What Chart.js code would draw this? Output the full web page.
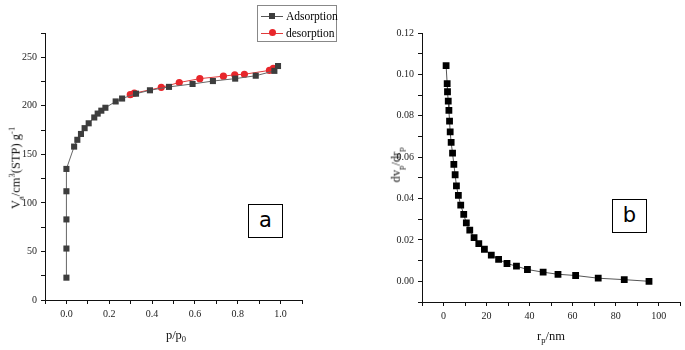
<!DOCTYPE html>
<html lang="en">
<head>
  <meta charset="UTF-8" />
  <title>Isotherm and pore size distribution</title>
  <script src="https://cdn.jsdelivr.net/npm/chart.js"></script>
  <style>
    body {
      margin: 0;
      width: 685px;
      height: 350px;
      background: #fff;
      position: relative;
      overflow: hidden;
      font-family: "Liberation Serif", serif;
    }
    .panel {
      position: absolute;
      top: 0;
      height: 350px;
    }
    #panelA { left: 0; width: 345px; }
    #panelB { left: 345px; width: 340px; }
    .axis-title {
      position: absolute;
      font-size: 12.5px;
      color: #111;
      white-space: nowrap;
      transform: translate(-50%, -50%);
    }
    .axis-title.rot {
      transform: translate(-50%, -50%) rotate(-90deg);
    }
    .axis-title sub, .axis-title sup { font-size: 8.5px; }
    .tag {
      position: absolute;
      border: 1px solid #000;
      background: #fff;
      font-family: "DejaVu Sans", sans-serif;
      font-size: 21px;
      text-align: center;
      box-sizing: border-box;
    }
    #legend {
      position: absolute;
      left: 257px;
      top: 5px;
      width: 80px;
      height: 37px;
      border: 1px solid #888;
      box-sizing: border-box;
      font-size: 11.5px;
    }
    .leg-row {
      position: absolute;
      left: 2px;
      height: 14px;
    }
    .leg-line {
      position: absolute;
      left: 1px;
      top: 7px;
      width: 22px;
      height: 1px;
    }
    .leg-mark {
      position: absolute;
      left: 9px;
    }
    .leg-text {
      position: absolute;
      left: 26px;
      top: 0;
      line-height: 14px;
    }
  </style>
</head>
<body>

  <div class="panel" id="panelA"><canvas id="chartA"></canvas></div>
  <div class="panel" id="panelB"><canvas id="chartB"></canvas></div>

  <div class="axis-title rot" style="left:16px; top:168px;">V<sub>a</sub>/cm<sup>3</sup>(STP) g<sup>-1</sup></div>
  <div class="axis-title" style="left:176px; top:336px;">p/p<sub>0</sub></div>
  <div class="axis-title rot" style="left:397px; top:165px;">dv<sub>p</sub>/dr<sub>p</sub></div>
  <div class="axis-title" style="left:551px; top:337px;">r<sub>p</sub>/nm</div>

  <div class="tag" style="left:248px; top:204px; width:35px; height:34px; line-height:31px;">a</div>
  <div class="tag" style="left:612px; top:199px; width:35px; height:34px; line-height:31px;">b</div>

  <div id="legend">
    <div class="leg-row" style="top:3px;">
      <div class="leg-line" style="background:#555;"></div>
      <div class="leg-mark" style="top:4px; width:6px; height:6px; background:#3d3d3d;"></div>
      <div class="leg-text">Adsorption</div>
    </div>
    <div class="leg-row" style="top:20px;">
      <div class="leg-line" style="background:#e03a3a;"></div>
      <div class="leg-mark" style="top:3px; width:7px; height:7px; border-radius:50%; background:#e8262b;"></div>
      <div class="leg-text">desorption</div>
    </div>
  </div>

  <script>
    // (a) N2 isotherm
    const adsP = [0.0, 0.0, 0.0, 0.0, 0.0, 0.036, 0.051, 0.068, 0.085, 0.104, 0.13, 0.146, 0.163, 0.182, 0.23, 0.26, 0.325, 0.39, 0.479, 0.589, 0.684, 0.788, 0.884, 0.971, 0.988];
    const adsV = [23, 53, 83, 112, 135, 158, 165, 171, 177, 182, 188, 192, 195, 198, 204.5, 207.5, 212.5, 216, 219.5, 222.5, 225.5, 228, 231, 236, 241];
    const desP = [0.966, 0.948, 0.831, 0.786, 0.733, 0.623, 0.527, 0.443, 0.317, 0.298];
    const desV = [238.5, 236.5, 232.5, 232, 230.5, 228, 224, 219, 213, 211.5];

    // (b) pore size distribution
    const poreR = [1.2, 1.7, 1.85, 2.2, 2.5, 2.8, 3.1, 3.55, 4.2, 4.8, 5.4, 6.0, 6.9, 8.0, 9.4, 10.6, 12.2, 14.2, 16.4, 19.0, 22.2, 25.6, 29.5, 33.9, 39.0, 46.3, 53.2, 61.4, 71.9, 84.0, 95.5];
    const poreD = [0.1042, 0.0955, 0.0916, 0.0871, 0.0826, 0.0774, 0.0722, 0.0671, 0.0619, 0.0565, 0.0515, 0.0461, 0.0415, 0.0368, 0.0323, 0.0282, 0.0247, 0.0211, 0.0182, 0.0155, 0.0127, 0.0106, 0.0086, 0.0073, 0.0057, 0.0044, 0.0034, 0.0028, 0.0015, 0.0008, 0.0000];

    const toXY = (xs, ys) => xs.map((x, i) => ({ x: x, y: ys[i] }));
    const tickFont = { family: 'Liberation Serif', size: 10 };

    function axis(min, max, step, labelFn, fit) {
      return {
        type: 'linear',
        min: min,
        max: max,
        border: { display: true, color: '#111', width: 1 },
        grid: { drawOnChartArea: false, drawTicks: true, tickLength: 4, color: '#111' },
        ticks: {
          stepSize: step,
          autoSkip: false,
          maxRotation: 0,
          color: '#222',
          font: tickFont,
          padding: 4,
          callback: labelFn
        },
        afterFit: fit
      };
    }

    const commonOpts = {
      responsive: false,
      animation: false,
      plugins: { legend: { display: false }, tooltip: { enabled: false } }
    };

    const cA = document.getElementById('chartA');
    cA.width = 345; cA.height = 350;
    new Chart(cA, {
      type: 'scatter',
      data: {
        datasets: [{
          label: 'Adsorption',
          data: toXY(adsP, adsV),
          showLine: true,
          borderColor: '#666',
          borderWidth: 1,
          pointStyle: 'rect',
          pointRadius: 4.3,
          pointBackgroundColor: '#3d3d3d',
          pointBorderColor: '#3d3d3d',
          pointBorderWidth: 0
        }, {
          label: 'desorption',
          data: toXY(desP, desV),
          showLine: true,
          borderColor: '#e03a3a',
          borderWidth: 1,
          pointStyle: 'circle',
          pointRadius: 3.6,
          pointBackgroundColor: '#e8262b',
          pointBorderColor: '#e8262b',
          pointBorderWidth: 0
        }]
      },
      options: Object.assign({}, commonOpts, {
        layout: { padding: { left: 0, top: 33, right: 43, bottom: 0 } },
        scales: {
          x: axis(-0.1, 1.1, 0.1, v => {
            const k = Math.round(v * 10);
            return (k >= 0 && k <= 10 && k % 2 === 0) ? (k / 10).toFixed(1) : '';
          }, s => { s.height = 50; }),
          y: axis(0, 275, 25, v => (v % 50 === 0 ? String(v) : ''), s => { s.width = 45; })
        }
      })
    });

    const cB = document.getElementById('chartB');
    cB.width = 340; cB.height = 350;
    new Chart(cB, {
      type: 'scatter',
      data: {
        datasets: [{
          label: 'dv/dr',
          data: toXY(poreR, poreD),
          showLine: true,
          borderColor: '#555',
          borderWidth: 1,
          pointStyle: 'rect',
          pointRadius: 4.8,
          pointBackgroundColor: '#000',
          pointBorderColor: '#000',
          pointBorderWidth: 0
        }]
      },
      options: Object.assign({}, commonOpts, {
        layout: { padding: { left: 0, top: 33, right: 3, bottom: 0 } },
        scales: {
          x: axis(-10, 110, 10, v => {
            const k = Math.round(v);
            return (k >= 0 && k <= 100 && k % 20 === 0) ? String(k) : '';
          }, s => { s.height = 48; }),
          y: axis(-0.01, 0.12, 0.01, v => {
            const k = Math.round(v * 100);
            return (k >= 0 && k % 2 === 0) ? (k / 100).toFixed(2) : '';
          }, s => { s.width = 77; })
        }
      })
    });
  </script>

</body>
</html>
